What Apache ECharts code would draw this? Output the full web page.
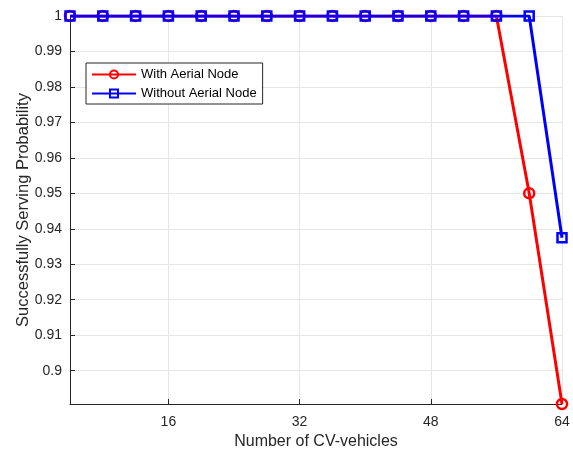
<!DOCTYPE html>
<html>
<head>
<meta charset="utf-8">
<script src="https://cdn.jsdelivr.net/npm/echarts@6/dist/echarts.min.js"></script>
<style>
  html, body { margin: 0; padding: 0; background: #fff; }
  #chart { width: 573px; height: 453px; }
</style>
</head>
<body>
<div id="chart"></div>
<script>
// number of CV-vehicles
const vehicles = [4, 8, 12, 16, 20, 24, 28, 32, 36, 40, 44, 48, 52, 56, 60, 64]
// success probability
const withAerial = [1, 1, 1, 1, 1, 1, 1, 1, 1, 1, 1, 1, 1, 1, 0.95, 0.8906]
const withoutAerial = [1, 1, 1, 1, 1, 1, 1, 1, 1, 1, 1, 1, 1, 1, 1, 0.9375]
const xTicks = [16, 32, 48, 64]
const yTicks = [0.9, 0.91, 0.92, 0.93, 0.94, 0.95, 0.96, 0.97, 0.98, 0.99, 1]

const font = 'Liberation Sans, Arial, sans-serif'
const axisColor = '#262626'

const chart = echarts.init(document.getElementById('chart'))

chart.setOption({
  animation: false,
  grid: { left: 70, right: 11, top: 16, bottom: 49, outerBoundsMode: 'none' },
  legend: {
    orient: 'vertical',
    left: 86,
    top: 63,
    itemWidth: 44,
    itemHeight: 10,
    itemGap: 6,
    padding: [5, 6, 4, 5],
    borderColor: axisColor,
    borderWidth: 1,
    backgroundColor: '#fff',
    textStyle: { fontFamily: font, fontSize: 13, color: '#000' },
    data: ['With Aerial Node', 'Without Aerial Node']
  },
  xAxis: {
    type: 'value',
    min: 4,
    max: 64,
    name: 'Number of CV-vehicles',
    nameLocation: 'middle',
    nameGap: 30,
    nameTextStyle: { fontFamily: font, fontSize: 16, color: axisColor },
    axisLine: { lineStyle: { color: axisColor, width: 1 } },
    axisTick: { inside: true, length: 5, customValues: xTicks, lineStyle: { color: axisColor } },
    axisLabel: { customValues: xTicks, fontFamily: font, fontSize: 14, color: axisColor, margin: 11 },
    splitLine: { show: true, lineStyle: { color: '#e6e6e6', width: 1 } }
  },
  yAxis: {
    type: 'value',
    min: 0.8906,
    max: 1,
    name: 'Successfully Serving Probability',
    nameLocation: 'middle',
    nameGap: 38,
    nameMoveOverlap: false,
    nameTextStyle: { fontFamily: font, fontSize: 16.5, color: axisColor },
    axisLine: { show: true, lineStyle: { color: axisColor, width: 1 } },
    axisTick: { show: true, inside: true, length: 5, customValues: yTicks, lineStyle: { color: axisColor } },
    axisLabel: {
      customValues: yTicks,
      fontFamily: font, fontSize: 14, color: axisColor, margin: 8,
      formatter: v => String(+v.toFixed(2))
    },
    splitLine: { show: true, lineStyle: { color: '#e6e6e6', width: 1 } }
  },
  series: [
    {
      name: 'With Aerial Node',
      type: 'line',
      data: vehicles.map((v, i) => [v, withAerial[i]]),
      symbol: 'circle',
      symbolSize: 10,
      lineStyle: { color: '#ff0000', width: 3 },
      itemStyle: { color: 'rgba(255,255,255,0)', borderColor: '#ff0000', borderWidth: 2.5 },
      z: 2
    },
    {
      name: 'Without Aerial Node',
      type: 'line',
      data: vehicles.map((v, i) => [v, withoutAerial[i]]),
      symbol: 'rect',
      symbolSize: 9,
      lineStyle: { color: '#0000ff', width: 3 },
      itemStyle: { color: 'rgba(255,255,255,0)', borderColor: '#0000ff', borderWidth: 2.5 },
      z: 3
    }
  ]
})
</script>
</body>
</html>
